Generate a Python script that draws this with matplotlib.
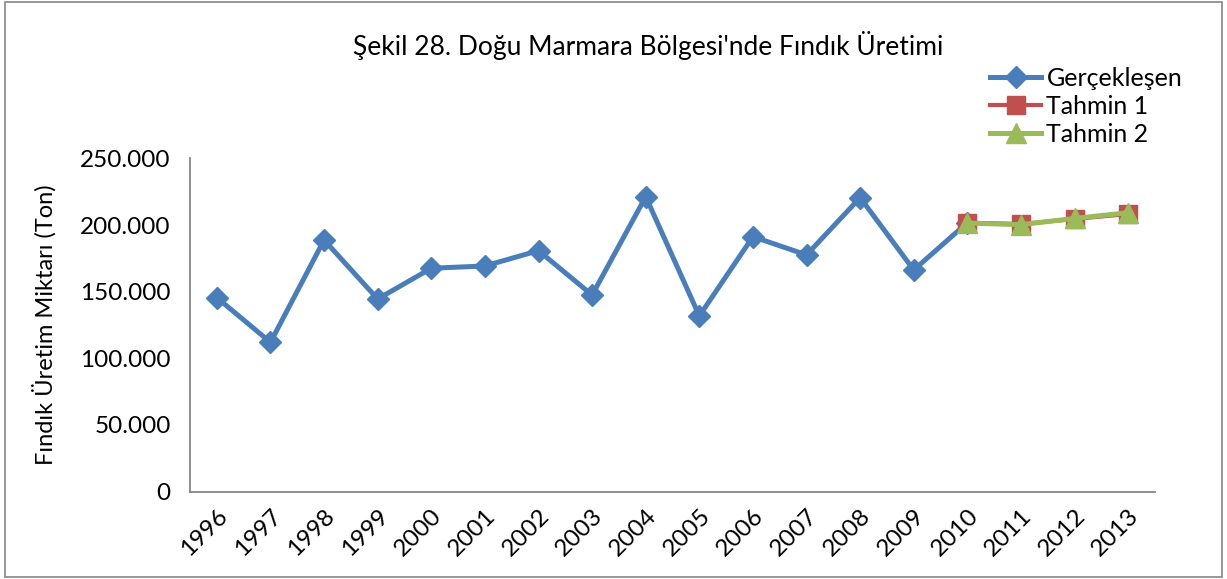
import matplotlib.pyplot as plt
from matplotlib.patches import Rectangle
from matplotlib.ticker import FuncFormatter

plt.rcParams['font.family'] = ['Lato', 'DejaVu Sans']

years = [str(y) for y in range(1996, 2014)]
actual = [145500, 112000, 188800, 144500, 167600, 169300, 180800, 147500, 221300,
          131800, 191300, 177600, 220600, 166300, 201800]
forecast_1 = [201800, 200800, 204600, 208300]
forecast_2 = [201500, 200300, 205000, 209300]

BLUE = '#4A7EBB'
RED = '#C0504D'
GREEN = '#9BBB59'


def thousands(v, pos):
    return f"{int(v):,}".replace(",", ".")


fig = plt.figure(figsize=(12.27, 5.79), dpi=100)
fig.patches.append(Rectangle((0.004, 0.004), 0.992, 0.992, transform=fig.transFigure,
                             fill=False, edgecolor='#868686', linewidth=1.2))

ax = fig.add_axes([0.1549, 0.1511, 0.7864, 0.5752])
x_all = list(range(len(years)))
ax.plot(x_all[:len(actual)], actual, color=BLUE, linewidth=3.6, marker='D',
        markersize=11.5, label='Gerçekleşen', zorder=3)
ax.plot(x_all[14:], forecast_1, color=RED, linewidth=3.0, marker='s',
        markersize=13, label='Tahmin 1', zorder=4)
ax.plot(x_all[14:], forecast_2, color=GREEN, linewidth=3.6, marker='^',
        markersize=14, label='Tahmin 2', zorder=5)

ax.set_xlim(-0.5, len(years) - 0.5)
ax.set_ylim(0, 250000)
ax.set_yticks(range(0, 250001, 50000))
ax.yaxis.set_major_formatter(FuncFormatter(thousands))
ax.set_xticks(x_all)
ax.set_xticklabels(years, rotation=45, ha='right', va='top', rotation_mode='anchor')
ax.tick_params(axis='both', length=0, labelsize=17.5, colors='black')
ax.tick_params(axis='x', pad=10)
ax.tick_params(axis='y', pad=14)

for side in ['top', 'right']:
    ax.spines[side].set_visible(False)
for side in ['left', 'bottom']:
    ax.spines[side].set_color('#868686')
    ax.spines[side].set_linewidth(1.3)

ax.set_ylabel('Fındık Üretim Miktarı (Ton)', fontsize=17, labelpad=17)

fig.text(0.528, 0.922, "Şekil 28. Doğu Marmara Bölgesi'nde Fındık Üretimi",
         ha='center', va='center', fontsize=19)

fig.legend(loc='upper left', bbox_to_anchor=(0.807, 0.884), frameon=False,
           fontsize=18, handlelength=2.05, handletextpad=0.2, labelspacing=0.2,
           borderaxespad=0, borderpad=0)

fig.savefig('out.png', dpi=100)
